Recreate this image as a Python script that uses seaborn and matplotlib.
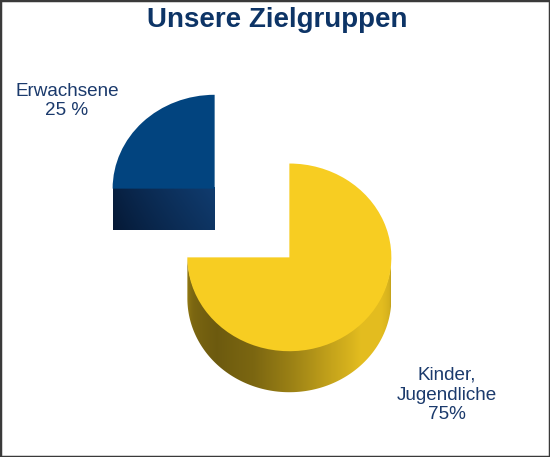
import numpy as np
import matplotlib
matplotlib.use("Agg")
import matplotlib.pyplot as plt
import seaborn as sns
from matplotlib.colors import to_rgb
from matplotlib.patches import Rectangle, PathPatch
from matplotlib.path import Path

# ---- data ----
categories = ["Erwachsene", "Kinder, Jugendliche"]
values = [25, 75]
label_texts = ["Erwachsene\n25 %", "Kinder,\nJugendliche\n75%"]
title = "Unsere Zielgruppen"

# ---- style ----
top_colors = ["#02447f", "#f7cd22"]
sns.set_style("white")
plt.rcParams["font.family"] = ["Liberation Sans", "DejaVu Sans"]

W, H = 550, 457
SQ = 0.92            # vertical squash of the tilted pie
R = 102              # radius (x units = px)
DEPTH = 41 / SQ      # thickness of the pie
EXPLODE = 0.518 * R

fig = plt.figure(figsize=(5.5, 4.57), dpi=100)
fig.patch.set_facecolor("white")
ax = fig.add_axes([0, 0, 1, 1])

cx, cy = 252, (H - 223) / SQ
wedges, _ = ax.pie(values, colors=top_colors, startangle=90, radius=R,
                   center=(cx, cy), explode=[EXPLODE, EXPLODE],
                   wedgeprops=dict(linewidth=0, zorder=3))

# ---- side of the large (yellow) wedge: outer rim, front half ----
wy = wedges[1]
x0, y0 = wy.center
lo, hi = max(wy.theta1, 180), min(wy.theta2, 360)
th = np.radians(np.linspace(lo, hi, 200))
upper = np.column_stack([x0 + R * np.cos(th), y0 + R * np.sin(th) + 2])
lower = np.column_stack([x0 + R * np.cos(th[::-1]), y0 + R * np.sin(th[::-1]) - DEPTH])
verts = np.vstack([upper, lower, upper[:1]])
clip_y = PathPatch(Path(verts, closed=True), facecolor="none", edgecolor="none")
ax.add_patch(clip_y)

base = np.array(to_rgb(top_colors[1]))
ang_ctrl = [180, 200, 225, 250, 270, 295, 315, 335, 350, 360]
fac_ctrl = [0.62, 0.50, 0.44, 0.50, 0.62, 0.80, 0.92, 0.92, 0.86, 0.78]
xs = np.linspace(x0 - R, x0 + R, 400)
theta_x = 360 - np.degrees(np.arccos(np.clip((xs - x0) / R, -1, 1)))
fac = np.interp(theta_x, ang_ctrl, fac_ctrl)
img = np.clip(base[None, None, :] * fac[None, :, None], 0, 1)
im = ax.imshow(img, extent=(x0 - R, x0 + R, y0 - R - DEPTH - 2, y0 + 3),
               aspect="auto", interpolation="bilinear", zorder=2, origin="lower")
im.set_clip_path(clip_y)

# ---- side of the small (blue) wedge: front cut face ----
wb = wedges[0]
xb, yb = wb.center
dark = np.array(to_rgb("#051834"))
light = np.array(to_rgb("#103c6f"))
gx = np.linspace(0, 1, 200)[None, :]
gy = np.linspace(0, 1, 50)[:, None]
t = np.clip(0.8 * gx ** 0.8 + 0.2 * gy, 0, 1)
img_b = dark[None, None, :] + (light - dark)[None, None, :] * t[:, :, None]
ax.imshow(img_b, extent=(xb - R, xb, yb - DEPTH, yb + 2), aspect="auto",
          interpolation="bilinear", zorder=2, origin="lower")

ax.set_aspect("auto")
ax.set_xlim(0, W)
ax.set_ylim(0, H / SQ)
ax.axis("off")

# ---- texts ----
fig.text(277 / W, 1 - 20 / H, title, ha="center", va="center",
         fontsize=20, fontweight="bold", color="#0d3466")
fig.text(67 / W, 1 - 101 / H, label_texts[0], ha="center", va="center",
         fontsize=13.6, color="#1b3a6c", linespacing=1.2)
fig.text(447 / W, 1 - 395 / H, label_texts[1], ha="center", va="center",
         fontsize=13.6, color="#1b3a6c", linespacing=1.2)

# ---- frame ----
fig.patches.append(Rectangle((0, 0), 1, 1, transform=fig.transFigure,
                             fill=False, edgecolor="#3a3a3a", linewidth=2.5))

fig.savefig("out.png", dpi=100, facecolor="white")
